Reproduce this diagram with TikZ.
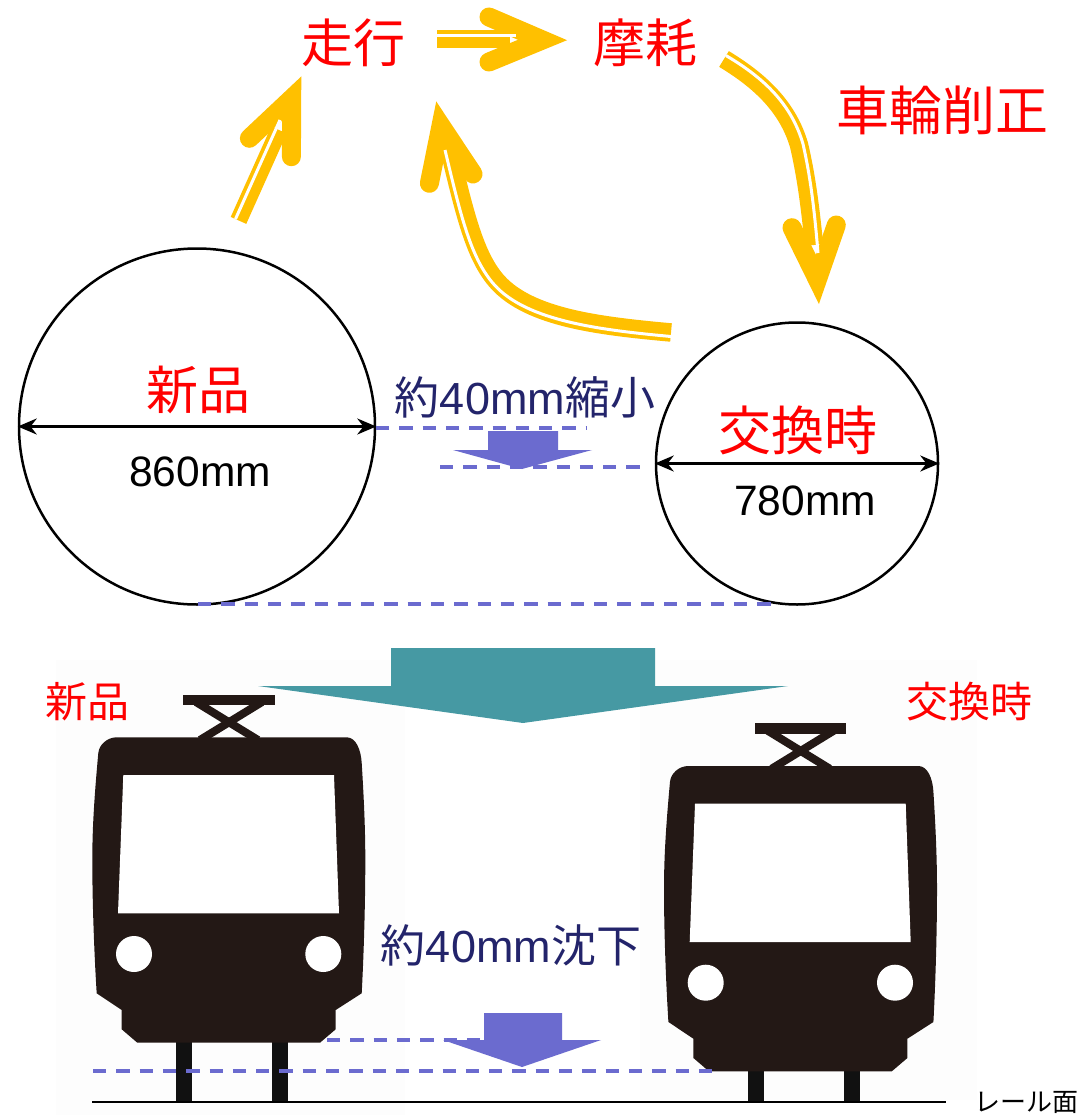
\documentclass[tikz,border=0pt]{standalone}
\usepackage{fontspec}
\setmainfont{Liberation Sans}
\newfontfamily\cjk{Noto Sans CJK JP}
\usetikzlibrary{arrows.meta}
\definecolor{amber}{HTML}{FFC000}
\definecolor{navy}{HTML}{23246B}
\definecolor{lilac}{HTML}{6B6BCF}
\definecolor{teal2}{HTML}{4699A3}
\definecolor{trainblack}{HTML}{231815}
\definecolor{legblack}{HTML}{111111}
\definecolor{photowhite}{HTML}{FDFDFD}
\tikzset{
  txt/.style={inner sep=0pt,outer sep=0pt,anchor=center},
  redbig/.style={txt,text=red,font=\cjk\fontsize{52}{60}\selectfont},
  redhuge/.style={txt,text=red,font=\cjk\fontsize{53}{60}\selectfont},
  redsmall/.style={txt,text=red,font=\cjk\fontsize{42}{50}\selectfont},
  navytxt/.style={txt,text=navy,font=\fontsize{45}{50}\selectfont},
  dimtxt/.style={txt,font=\fontsize{42.5}{50}\selectfont},
  wheel/.style={circle,draw=black,line width=2.5pt,inner sep=0pt,fill=none},
  dimline/.style={{Stealth[length=19pt,width=16pt]}-{Stealth[length=19pt,width=16pt]},line width=2.5pt},
  guide/.style={draw=lilac,line width=3.3pt,dash pattern=on 13.3pt off 10pt},
  head/.style={draw=amber,line width=19pt,line cap=round,line join=miter},
  band/.style={draw=amber,line width=18.5pt,line cap=butt},
  gap/.style={draw=white,line width=3pt,line cap=butt},
}
\newcommand{\trainshape}[1]{%
  \fill[legblack] (176,1041) rectangle (192,#1);
  \fill[legblack] (272,1041) rectangle (288,#1);
  \fill[trainblack] (183.3,694.7) rectangle (274.7,705);
  \draw[trainblack,line width=8pt] (196,702) -- (258,740);
  \draw[trainblack,line width=8pt] (262,702) -- (200,740);
  \fill[trainblack] (116.7,737.3) -- (346.7,737.3)
    .. controls (356,737.3) and (361,750) .. (361.7,763)
    .. controls (364,800) and (365.3,830) .. (365.3,860)
    .. controls (365.3,900) and (364,950) .. (361.7,993.3)
    -- (335.7,1010) -- (335.7,1029.3) -- (320,1042.7) -- (137.3,1042.7)
    -- (121.7,1029.3) -- (121.7,1010) -- (96.7,993.3)
    .. controls (94,950) and (92.3,900) .. (92.3,860)
    .. controls (92.3,830) and (94,800) .. (98.3,753)
    .. controls (99,745) and (107,737.3) .. (116.7,737.3) -- cycle;
  \fill[white] (123.3,775) -- (334,775) -- (339,913.3) -- (118,913.3) -- cycle;
  \fill[white] (134,954) circle (18);
  \fill[white] (323.3,954) circle (18);
}
\begin{document}
\begin{tikzpicture}[x=1pt,y=-1pt]
\useasboundingbox (0,0) rectangle (1083,1115);
\fill[white] (0,0) rectangle (1083,1115);
\fill[photowhite] (56,660) rectangle (405,1115);
\fill[photowhite] (640,660) rectangle (977,1100);

% yellow cycle arrows
\draw[head] (489,17) -- (542.5,40) -- (489,62);
\draw[band] (437,39.2) -- (510,39.2);
\draw[gap] (437,35.5) -- (516,35.5);

\draw[head] (249.4,138.3) -- (291.7,98.5) -- (291.4,156.7);
\draw[band,line width=17pt] (238.5,220.4) -- (279,130);
\draw[gap] (235.5,219) -- (280,120);

\draw[head] (792,227.7) -- (817.4,279.4) -- (836.3,225);
\draw[band] (724,59) .. controls (762,82) and (788,108) .. (799,145) .. controls (806,175) and (810,205) .. (814,245);
\draw[gap] (726,55.6) .. controls (766,79) and (792,106) .. (803,144) .. controls (810,175) and (814,205) .. (818,253);

\draw[head] (429.4,183.3) -- (441,125.8) -- (473,174);
\draw[band] (671,332.5) .. controls (600,326) and (530,318) .. (497.5,282) .. controls (475,257) and (465,215) .. (449,148);
\draw[gap] (671,336.5) .. controls (600,330) and (527,321) .. (494.5,285) .. controls (471,259) and (461,217) .. (445,150);

% labels of the cycle
\node[redbig] (run) at (353,43) {走行};
\node[redbig] (wear) at (645,43) {摩耗};
\node[redhuge] (turn) at (942,110) {車輪削正};

% wheels
\node[wheel,minimum size=356pt] (newwheel) at (197,426.5) {};
\node[wheel,minimum size=282pt] (oldwheel) at (797,463.5) {};
\draw[dimline] (newwheel.west) -- (newwheel.east);
\draw[dimline] (oldwheel.west) -- (oldwheel.east);
\node[redbig] (newlabel) at (198,390) {新品};
\node[redhuge] (oldlabel) at (798,430) {交換時};
\node[dimtxt] (newsize) at (200,472) {860mm};
\node[dimtxt] (oldsize) at (805,501) {780mm};

% guides and shrink arrow
\draw[guide] (376,428) -- (586,428);
\draw[guide] (440,467) -- (642,467);
\draw[guide] (198,604) -- (775,604);
\fill[lilac] (488,431) -- (558,431) -- (558,450) -- (592,450) -- (522,469) -- (453,450) -- (488,450) -- cycle;
\node[navytxt] (shrink) at (525,397) {{\cjk 約}40mm{\cjk 縮小}};

% teal arrow
\fill[teal2] (391,648) -- (655,648) -- (655,686) -- (788,686) -- (523,723) -- (258,686) -- (391,686) -- cycle;

% trains
\begin{scope}
  \trainshape{1102}
\end{scope}
\begin{scope}[shift={(571.7,28.7)}]
  \trainshape{1073.3}
\end{scope}
\draw[black,line width=2pt] (92,1102) -- (946,1102);

\node[redsmall] (newsmall) at (87,702) {新品};
\node[redsmall] (oldsmall) at (969,702) {交換時};
\node[txt,font=\cjk\fontsize{26}{30}\selectfont] (rail) at (1026,1102) {レール面};

% sinking
\draw[guide] (327,1040) -- (480,1040);
\draw[guide] (93,1071) -- (712,1071);
\fill[lilac] (484,1013) -- (562,1013) -- (562,1040) -- (601,1040) -- (522,1067) -- (443,1040) -- (484,1040) -- cycle;
\node[navytxt] (sink) at (511,945) {{\cjk 約}40mm{\cjk 沈下}};
\end{tikzpicture}
\end{document}
